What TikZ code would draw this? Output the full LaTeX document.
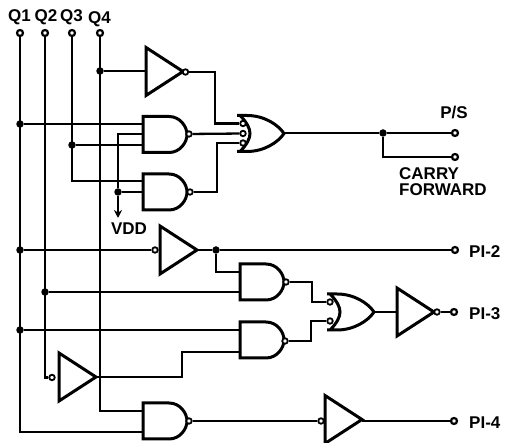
\documentclass[tikz,border=0pt]{standalone}
\usepackage{fontspec}
\setmainfont{Liberation Sans}
\usetikzlibrary{arrows.meta}
\pgfdeclarelayer{wires}
\pgfsetlayers{wires,main}
\tikzset{
  x=1pt,y=-1pt,
  wire/.style={line width=2.3pt,line join=miter},
  gate/.style={line width=3pt,line join=miter,fill=white},
  bub/.style={circle,draw,line width=1.8pt,fill=white,inner sep=0pt,minimum size=5.5pt},
  term/.style={circle,draw,line width=2.2pt,fill=white,inner sep=0pt,minimum size=6pt},
  jn/.style={circle,fill=black,inner sep=0pt,minimum size=7.5pt},
  lab/.style={inner sep=0pt,font=\fontsize{17}{17}\bfseries\selectfont,align=left},
  andg/.pic={\path[gate,draw] (0,-18) -- (26,-18) .. controls (37,-18) and (44,-8) .. (44,0) .. controls (44,8) and (37,18) .. (26,18) -- (0,18) -- cycle;},
  org/.pic={\path[gate,draw] (0,-18) -- (10,-18) .. controls (27,-18) and (41,-9) .. (47,0) .. controls (41,9) and (27,18) .. (10,18) -- (0,18) -- (3,18) .. controls (10,11) and (13,5) .. (13,0) .. controls (13,-5) and (10,-11) .. (3,-18) -- cycle;},
  invg/.pic={\path[gate,draw] (0,-24) -- (37,0) -- (0,24) -- cycle;}
}
\begin{document}
\begin{tikzpicture}
\useasboundingbox (0,0) rectangle (507,443);
% gates
\pic at (146,71.5) {invg};
\pic at (143,134.5) {andg};
\pic at (143,192) {andg};
\pic at (237,133.5) {org};
\pic at (160,250) {invg};
\pic at (240,282) {andg};
\pic at (240,340) {andg};
\pic at (327,312) {org};
\pic at (397,312) {invg};
\pic at (59,377) {invg};
\pic at (143,421) {andg};
\pic at (325,419.5) {invg};
% terminals
\node[term] (t1) at (20,33) {};
\node[term] (t2) at (45,33) {};
\node[term] (t3) at (72,33) {};
\node[term] (t4) at (100,33) {};
\node[term] (tps) at (455,133) {};
\node[term] (tcf) at (455,157) {};
\node[term] (tp2) at (455,250) {};
\node[term] (tp3) at (454,312) {};
\node[term] (tp4) at (454,421) {};
% labels
\node[lab] (lq1) at (19.5,17.5) {Q1};
\node[lab] (lq2) at (46,17.5) {Q2};
\node[lab] (lq3) at (71.5,17.5) {Q3};
\node[lab] (lq4) at (99.5,19.5) {Q4};
\node[lab] (lps) at (454,113) {P/S};
\node[lab,anchor=north west] (lcf) at (399,167) {CARRY\\[-0.5pt]FORWARD};
\node[lab] (lvdd) at (129,229) {VDD};
\node[lab,anchor=west] (lp2) at (469,252) {PI-2};
\node[lab,anchor=west] (lp3) at (469,314) {PI-3};
\node[lab,anchor=west] (lp4) at (469,423) {PI-4};
% input points
\coordinate (a1a) at (143,124);
\coordinate (a1b) at (143,134);
\coordinate (a1c) at (143,145);
\coordinate (a2a) at (143,181);
\coordinate (a2b) at (143,192);
\coordinate (a3a) at (240,272);
\coordinate (a3b) at (240,292);
\coordinate (a4a) at (240,330);
\coordinate (a4b) at (240,352);
\coordinate (a5a) at (143,411);
\coordinate (a5b) at (143,432);
\coordinate (i1i) at (146,71);
\coordinate (i3i) at (397,312);
\coordinate (i2o) at (197,250);
\coordinate (i4o) at (95,377);
\coordinate (i5o) at (362,421);
\coordinate (o1o) at (284,133);
\coordinate (o2o) at (373,312);
\coordinate (vdd) at (118,218);
% junctions
\node[jn] (j1a) at (20,124) {};
\node[jn] (j1b) at (20,250) {};
\node[jn] (j1c) at (20,330) {};
\node[jn] (j2a) at (45,292) {};
\node[jn] (j3a) at (72,145) {};
\node[jn] (j4a) at (100,71) {};
\node[jn] (jv) at (118,192) {};
\node[jn] (jo) at (383,133) {};
\node[jn] (jp) at (216,250) {};
% bubbles
\node[bub] (bi1) at (185.5,72) {};
\node[bub] (ba1) at (189,134) {};
\node[bub] (ba2) at (190,192) {};
\node[bub] (bo1a) at (243,123.5) {};
\node[bub] (bo1b) at (243,133.5) {};
\node[bub] (bo1c) at (243,143) {};
\node[bub] (bi2) at (155,250) {};
\node[bub] (ba3) at (286,282) {};
\node[bub] (ba4) at (285,341) {};
\node[bub] (bo2a) at (330,302) {};
\node[bub] (bo2b) at (330,321) {};
\node[bub] (bi3) at (437,312) {};
\node[bub] (bi4) at (52,377.5) {};
\node[bub] (ba5) at (189,421) {};
\node[bub] (bi5) at (321,421) {};
% wires
\begin{pgfonlayer}{wires}
\draw[wire,line width=2.6pt] (t1) |- (a5b);
\draw[wire] (t2) |- (bi4);
\draw[wire] (t3) |- (a2a);
\draw[wire] (t4) |- (a5a);
\draw[wire] (j4a) -- (i1i);
\draw[wire] (j1a) -- (a1a);
\draw[wire] (j3a) -- (a1c);
\draw[wire] (a1b) -| (jv);
\draw[wire,-{Stealth[length=8pt,width=8pt]}] (jv) -- (vdd);
\draw[wire] (jv) -- (a2b);
\draw[wire] (bi1) -| (215,123.5) -- (bo1a);
\draw[wire] (ba1) -- (bo1b);
\draw[wire] (ba2) -| (217,143) -- (bo1c);
\draw[wire] (o1o) -- (jo);
\draw[wire] (jo) -- (tps);
\draw[wire] (jo) |- (tcf);
\draw[wire] (j1b) -- (bi2);
\draw[wire] (i2o) -- (jp);
\draw[wire] (jp) -- (tp2);
\draw[wire] (jp) |- (a3a);
\draw[wire] (j2a) -- (a3b);
\draw[wire] (j1c) -- (a4a);
\draw[wire] (i4o) -| (182,352) -- (a4b);
\draw[wire] (ba3) -| (312,302) -- (bo2a);
\draw[wire] (ba4) -| (311,321) -- (bo2b);
\draw[wire] (o2o) -- (i3i);
\draw[wire] (bi3) -- (tp3);
\draw[wire] (ba5) -- (bi5);
\draw[wire] (i5o) -- (tp4);
\end{pgfonlayer}
\end{tikzpicture}
\end{document}
